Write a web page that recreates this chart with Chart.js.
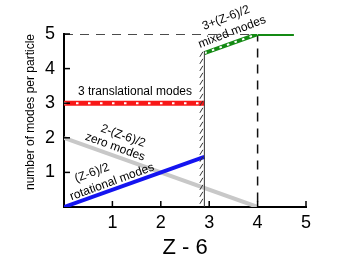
<!DOCTYPE html>
<html>
<head>
<meta charset="utf-8">
<script src="https://cdn.jsdelivr.net/npm/chart.js@4/dist/chart.umd.min.js"></script>
<style>
  body { margin: 0; background: #fff; }
</style>
</head>
<body>
<canvas id="js--grafiek" width="354" height="263"></canvas>
<script>
// values (x = Z - 6, y = modes per particle)
const cutoff = 2.9;
const translationalZ = [0, cutoff];
const translationalY = [3, 3];
const rotationalZ = [0, cutoff];
const rotationalY = [0, 1.45];
const zeroZ = [0, 4];
const zeroY = [2, 0];
const mixedZ = [cutoff, 4, 4.75];
const mixedY = [4.45, 5, 5];
const guideZ = [0, 4, 4];
const guideY = [5, 5, 0];
const cutoffZ = [cutoff, cutoff];
const cutoffY = [0, 4.5];
const xTicks = [0, 1, 2, 3, 4, 5];
const yTicks = [0, 1, 2, 3, 4, 5];

function pts(xs, ys) {
  return xs.map((x, i) => ({ x: x, y: ys[i] }));
}

function line(data, color, width, order, dash) {
  return {
    data: data,
    borderColor: color,
    borderWidth: width,
    borderDash: dash || [],
    pointRadius: 0,
    tension: 0,
    borderCapStyle: 'butt',
    order: order
  };
}

const font = "'Liberation Sans', Arial, sans-serif";

// text labels, inward tick marks and the hatched cutoff line
const extras = {
  id: 'extras',
  afterDatasetsDraw(chart) {
    const ctx = chart.ctx;
    const xs = chart.scales.x, ys = chart.scales.y;
    ctx.save();
    ctx.strokeStyle = '#000';
    ctx.lineWidth = 1.5;
    xTicks.forEach(t => {
      if (t === 0) return;
      const px = xs.getPixelForValue(t);
      ctx.beginPath(); ctx.moveTo(px, ys.bottom); ctx.lineTo(px, ys.bottom - 6); ctx.stroke();
    });
    yTicks.forEach(t => {
      if (t === 0) return;
      const py = ys.getPixelForValue(t);
      ctx.beginPath(); ctx.moveTo(xs.left, py); ctx.lineTo(xs.left + 6, py); ctx.stroke();
    });

    // hatch marks on the cutoff line
    const meta = chart.getDatasetMeta(chart.data.datasets.length - 1);
    const p0 = meta.data[0], p1 = meta.data[1];
    ctx.strokeStyle = '#333';
    ctx.lineWidth = 1;
    for (let y = p1.y + 3; y < p0.y; y += 7) {
      ctx.beginPath(); ctx.moveTo(p0.x - 4.5, y + 2.5); ctx.lineTo(p0.x - 1.5, y - 2.5); ctx.stroke();
    }

    ctx.fillStyle = '#000';
    ctx.textAlign = 'center';
    ctx.textBaseline = 'middle';
    function txt(s, x, y, ang, size) {
      ctx.save();
      ctx.translate(x, y);
      ctx.rotate(ang * Math.PI / 180);
      ctx.font = (size || 12) + 'px ' + font;
      ctx.fillText(s, 0, 0);
      ctx.restore();
    }
    txt('3 translational modes', 135, 92, 0);
    txt('2-(Z-6)/2', 123, 136, 20);
    txt('zero modes', 115, 147, 20);
    txt('(Z-6)/2', 92, 173, -20);
    txt('rotational modes', 112, 182, -20);
    txt('3+(Z-6)/2', 226, 18, -21);
    txt('mixed modes', 232, 32, -21);
    txt('number of modes per particle', 31, 112, -90);
    ctx.restore();
  }
};

const config = {
  type: 'line',
  data: {
    datasets: [
      line(pts(translationalZ, translationalY), '#fff', 2, 1, [2.5, 9.5]),
      line(pts(mixedZ.slice(0, 2), mixedY.slice(0, 2)), '#fff', 2, 1, [2.5, 5.5]),
      line(pts(translationalZ, translationalY), '#f81818', 5, 2),
      line(pts(mixedZ, mixedY), '#148a14', 4, 2),
      line(pts(rotationalZ, rotationalY), '#1414f0', 4, 3),
      line(pts(zeroZ, zeroY), '#c8c8c8', 4, 4),
      line(pts(guideZ, guideY), '#111', 1.5, 5, [9, 7]),
      line(pts(cutoffZ, cutoffY), '#333', 1, 0)
    ]
  },
  options: {
    responsive: false,
    animation: false,
    layout: { padding: { top: 34, right: 48, left: 0, bottom: 0 } },
    plugins: { legend: { display: false }, tooltip: { enabled: false } },
    scales: {
      x: {
        type: 'linear', min: 0, max: 5,
        afterFit: s => { s.height = 56; },
        grid: { display: false, drawTicks: false },
        border: { display: true, color: '#000', width: 2 },
        ticks: {
          stepSize: 1, padding: 5, color: '#000',
          font: { family: font, size: 18 },
          callback: v => v === 0 ? '' : v
        },
        title: {
          display: true, text: 'Z - 6', color: '#000',
          font: { family: font, size: 22 },
          padding: { top: 0, bottom: 2 }
        }
      },
      y: {
        type: 'linear', min: 0, max: 5,
        afterFit: s => { s.width = 64; },
        grid: { display: false, drawTicks: false },
        border: { display: true, color: '#000', width: 2 },
        ticks: {
          stepSize: 1, padding: 9, color: '#000',
          font: { family: font, size: 18 },
          callback: v => v === 0 ? '' : v
        }
      }
    }
  },
  plugins: [extras]
};

const chart1 = new Chart(document.getElementById('js--grafiek'), config);
</script>
</body>
</html>
